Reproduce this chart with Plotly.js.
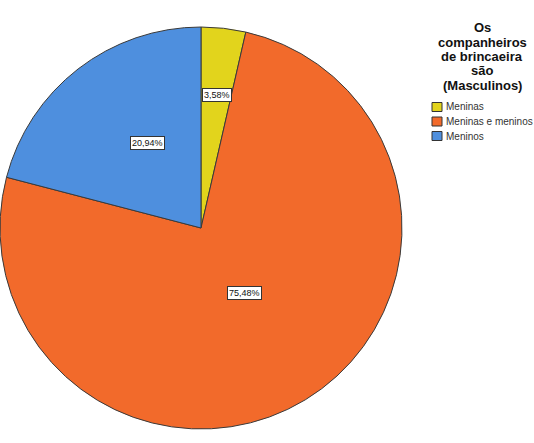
<!DOCTYPE html>
<html>
<head>
<meta charset="utf-8">
<script src="https://cdn.plot.ly/plotly-3.0.1.min.js"></script>
<style>html,body{margin:0;padding:0;background:#fff;}#chart{width:534px;height:443px;}</style>
</head>
<body>
<div id="chart"></div>
<script>
const categories = ["Meninas", "Meninas e meninos", "Meninos"];
const values = [3.58, 75.48, 20.94];
const colors = ["#e2d41c", "#f26a2b", "#4e8fde"];
const legendTitleLines = ["Os", "companheiros", "de brincaeira", "são", "(Masculinos)"];

// layout settings (not data)
const W = 534, H = 443;
const R = 201, CX = 201, CY = 228;
const labelRadius = [0.7, 0.42, 0.58];
const LEG = {titleX: 482, titleY0: 28, titleDy: 14.3, boxX: 432, boxSize: 9, itemY0: 107, itemDy: 14.5, textX: 444};

const dom = {x: [(CX - R) / W, (CX + R) / W], y: [1 - (CY + R) / H, 1 - (CY - R) / H]};
function fmt(v) { return v.toFixed(2).replace('.', ',') + '%'; }
const px2x = p => p / W, px2y = p => 1 - p / H;
const font = 'Arial, Liberation Sans, sans-serif';

const total = values.reduce((a, b) => a + b, 0);
let cum = 0;
const annotations = values.map((v, i) => {
  const mid = (cum + v / 2) / total * 2 * Math.PI;
  cum += v;
  const f = labelRadius[i];
  return {
    x: px2x(CX + R * f * Math.sin(mid)), y: px2y(CY - R * f * Math.cos(mid)),
    xref: 'paper', yref: 'paper', text: fmt(v), showarrow: false,
    font: {family: font, size: 9, color: '#111'},
    bgcolor: '#ffffff', bordercolor: '#333333', borderwidth: 1, borderpad: 1
  };
});

// legend title
legendTitleLines.forEach((t, i) => {
  annotations.push({
    x: px2x(LEG.titleX), y: px2y(LEG.titleY0 + i * LEG.titleDy), xref: 'paper', yref: 'paper',
    xanchor: 'center', yanchor: 'middle', showarrow: false, text: '<b>' + t + '</b>',
    font: {family: font, size: 13, color: '#111'}
  });
});
// legend items
const shapes = [];
categories.forEach((c, i) => {
  const cy = LEG.itemY0 + i * LEG.itemDy;
  shapes.push({
    type: 'rect', xref: 'paper', yref: 'paper',
    x0: px2x(LEG.boxX), x1: px2x(LEG.boxX + LEG.boxSize + 1),
    y0: px2y(cy - LEG.boxSize / 2), y1: px2y(cy + LEG.boxSize / 2),
    fillcolor: colors[i], line: {color: '#333', width: 1}
  });
  annotations.push({
    x: px2x(LEG.textX), y: px2y(cy), xref: 'paper', yref: 'paper',
    xanchor: 'left', yanchor: 'middle', showarrow: false, text: c,
    font: {family: font, size: 10, color: '#333'}
  });
});

const trace = {
  type: 'pie',
  labels: categories,
  values: values,
  sort: false,
  direction: 'clockwise',
  rotation: 0,
  marker: {colors: colors, line: {color: '#3a3a3a', width: 1}},
  textinfo: 'none',
  hoverinfo: 'label+percent',
  domain: dom
};

const layout = {
  width: W, height: H,
  margin: {l: 0, r: 0, t: 0, b: 0, autoexpand: false},
  paper_bgcolor: '#fff',
  showlegend: false,
  annotations: annotations,
  shapes: shapes
};

Plotly.newPlot('chart', [trace], layout, {displayModeBar: false, staticPlot: true});
</script>
</body>
</html>
